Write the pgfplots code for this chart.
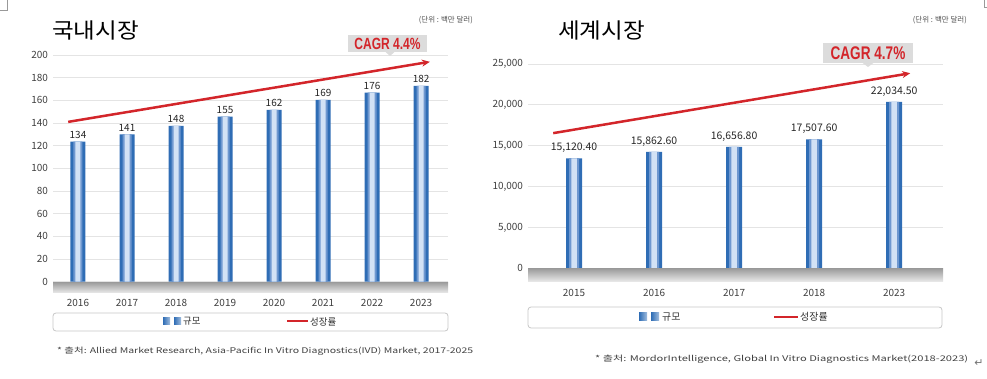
\documentclass[border=0pt]{standalone}
\usepackage{pgfplots}
\pgfplotsset{compat=1.18}
\usepackage{pgfplotstable}
\usepackage{fontspec}
\setmainfont{Noto Sans CJK KR}
\newfontfamily\lib{Liberation Sans}
\newfontfamily\dejavu{DejaVu Sans}
\usetikzlibrary{arrows.meta}
\definecolor{barblue}{HTML}{2F6DB5}
\definecolor{barmid}{HTML}{6F98D0}
\definecolor{barlight}{HTML}{D3E2F5}
\definecolor{cagrred}{HTML}{D3252A}
\definecolor{gridgray}{HTML}{E4E4E4}
\definecolor{ticktext}{HTML}{3F3F3F}
\definecolor{boxgray}{HTML}{DCDCDC}

\pgfplotstableread{
x y label
0 123.5 134
1 130 141
2 137.4 148
3 145.6 155
4 151.5 162
5 160.4 169
6 166.8 176
7 172.7 182
}\domestic

\pgfplotstableread{
x y label
0 13450 15,120.40
1 14250 15,862.60
2 14870 16,656.80
3 15770 17,507.60
4 20370 22,034.50
}\world

\pgfplotsset{panel/.style={
  scale only axis,
  axis line style={draw=none},
  major tick length=0pt,
  ymajorgrids,
  grid style={gridgray, line width=0.8bp},
  tick label style={font=\fontsize{10}{11}\selectfont, text=ticktext},
  yticklabel style={xshift=-1.5bp},
  /pgf/number format/assume math mode=true,
  clip=false,
  ymin=0,
}}

\begin{document}
\begin{tikzpicture}
\path[use as bounding box] (0,0) rectangle (987bp,379bp);

% ---------- left panel ----------
\begin{axis}[panel,
  at={(53bp,97.3bp)}, anchor=south west,
  width=395bp, height=226.7bp,
  xmin=-0.51, xmax=7.55, ymax=200,
  ytick={0,20,...,200},
  xtick={0,...,7},
  xticklabels={2016,2017,2018,2019,2020,2021,2022,2023},
  xticklabel style={anchor=center, yshift=-21.3bp},
]
\addplot[ybar, bar width=15bp, draw=none, fill=barblue] table[x=x, y=y] {\domestic};
\addplot[ybar, bar width=9bp, draw=none, fill=barmid, forget plot] table[x=x, y=y] {\domestic};
\addplot[ybar, bar width=5bp, draw=none, fill=barlight, forget plot] table[x=x, y=y] {\domestic};
\addplot[draw=none, mark=none,
  nodes near coords, point meta=explicit symbolic,
  nodes near coords style={font=\fontsize{10}{11}\selectfont, text=black!85, anchor=south, yshift=-0.5bp}]
  table[x=x, y=y, meta=label] {\domestic};
\addplot[cagrred, line width=2.5bp, -{Stealth[length=8bp, width=7bp]}]
  coordinates {(-0.2,141) (7.18,194)};
\end{axis}

% ---------- right panel ----------
\begin{axis}[panel,
  at={(528bp,110.7bp)}, anchor=south west,
  width=415bp, height=204.3bp,
  xmin=-0.575, xmax=4.61, ymax=25000,
  ytick={0,5000,...,25000},
  scaled y ticks=false,
  yticklabel style={/pgf/number format/1000 sep={,}},
  xtick={0,...,4},
  xticklabels={2015,2016,2017,2018,2023},
  xticklabel style={anchor=center, yshift=-24.7bp},
]
\addplot[ybar, bar width=16bp, draw=none, fill=barblue] table[x=x, y=y] {\world};
\addplot[ybar, bar width=10bp, draw=none, fill=barmid, forget plot] table[x=x, y=y] {\world};
\addplot[ybar, bar width=5.5bp, draw=none, fill=barlight, forget plot] table[x=x, y=y] {\world};
\addplot[draw=none, mark=none,
  nodes near coords, point meta=explicit symbolic,
  nodes near coords style={font=\fontsize{10.5}{11}\selectfont, text=black!85, anchor=south, yshift=2bp}]
  table[x=x, y=y, meta=label] {\world};
\addplot[cagrred, line width=2.5bp, -{Stealth[length=8bp, width=7bp]}]
  coordinates {(-0.26,16540) (4.2,23870)};
\end{axis}

% ---------- floor bands ----------
\shade[top color=black!38, bottom color=black!8] (53bp,96.5bp) rectangle (448bp,86bp);
\shade[top color=black!38, bottom color=black!8] (528bp,110bp) rectangle (943bp,97.3bp);

% ---------- titles ----------
\node[anchor=west, inner sep=0pt] at (52bp,349bp) {\scalebox{1.1}[1]{\fontsize{21.5}{24}\selectfont 국내시장}};
\node[anchor=west, inner sep=0pt] at (558bp,349bp) {\scalebox{1.1}[1]{\fontsize{21.5}{24}\selectfont 세계시장}};
\node[anchor=east, inner sep=0pt, font=\fontsize{7.5}{9}\selectfont, text=black!70] at (473bp,359bp) {(단위 : 백만 달러)};
\node[anchor=east, inner sep=0pt, font=\fontsize{7.5}{9}\selectfont, text=black!70] at (967bp,359bp) {(단위 : 백만 달러)};

% ---------- CAGR callouts ----------
\fill[boxgray] (348bp,344bp) rectangle (427bp,327bp);
\fill[boxgray] (385bp,327.5bp) -- (395bp,327.5bp) -- (390bp,323bp) -- cycle;
\node[inner sep=0pt, text=cagrred] at (387.5bp,335.5bp) {\scalebox{0.78}[1.05]{\lib\bfseries\fontsize{15.5}{16}\selectfont CAGR 4.4\%}};
\fill[boxgray] (823bp,336bp) rectangle (913bp,316bp);
\fill[boxgray] (862bp,316.5bp) -- (874bp,316.5bp) -- (868bp,312bp) -- cycle;
\node[inner sep=0pt, text=cagrred] at (868bp,326bp) {\scalebox{0.78}[1.05]{\lib\bfseries\fontsize{17.5}{18}\selectfont CAGR 4.7\%}};

% ---------- legends ----------
\draw[black!22, fill=white, rounded corners=3bp, line width=0.8bp] (53bp,66bp) rectangle (448bp,48bp);
\shade[left color=barblue, right color=barblue!45] (163bp,61bp) rectangle (170bp,54bp);
\shade[left color=barblue, right color=barblue!45] (174bp,61bp) rectangle (181bp,54bp);
\node[anchor=west, inner sep=0pt, font=\fontsize{9.5}{10}\selectfont, text=black!80] at (183bp,57.5bp) {규모};
\draw[cagrred, line width=2bp] (287bp,57.5bp) -- (308bp,57.5bp);
\node[anchor=west, inner sep=0pt, font=\fontsize{9.5}{10}\selectfont, text=black!80] at (310bp,57.5bp) {성장률};

\draw[black!22, fill=white, rounded corners=3bp, line width=0.8bp] (528bp,72bp) rectangle (942bp,51bp);
\shade[left color=barblue, right color=barblue!45] (639bp,66bp) rectangle (647bp,58bp);
\shade[left color=barblue, right color=barblue!45] (651bp,66bp) rectangle (659bp,58bp);
\node[anchor=west, inner sep=0pt, font=\fontsize{10}{11}\selectfont, text=black!80] at (662bp,62bp) {규모};
\draw[cagrred, line width=2bp] (774bp,62bp) -- (798bp,62bp);
\node[anchor=west, inner sep=0pt, font=\fontsize{10}{11}\selectfont, text=black!80] at (800bp,62bp) {성장률};

% ---------- footnotes ----------
\node[anchor=west, inner sep=0pt, text=black!75] at (57bp,28bp) {\resizebox{416bp}{6.5bp}{* 출처: Allied Market Research, Asia-Pacific In Vitro Diagnostics(IVD) Market, 2017-2025}};
\node[anchor=west, inner sep=0pt, text=black!75] at (595bp,20bp) {\resizebox{373bp}{6.5bp}{* 출처: MordorIntelligence, Global In Vitro Diagnostics Market(2018-2023)}};
\node[inner sep=0pt, text=black!55, font=\dejavu\fontsize{11}{12}\selectfont] at (979bp,16bp) {↵};

% ---------- corner marks ----------
\draw[black!40, line width=0.5bp] (0bp,369bp) -- (7bp,369bp) -- (7bp,379bp);
\draw[black!40, line width=0.5bp] (984bp,379bp) -- (984bp,372bp) -- (987bp,372bp);
\end{tikzpicture}
\end{document}
